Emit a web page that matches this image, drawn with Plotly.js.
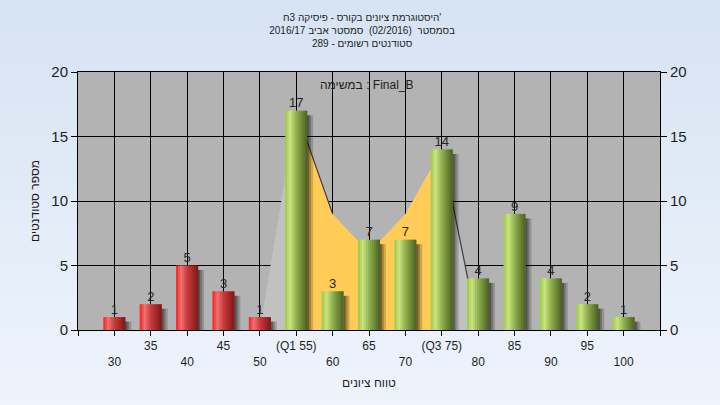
<!DOCTYPE html>
<html>
<head>
<meta charset="utf-8">
<script src="https://cdn.plot.ly/plotly-3.0.1.min.js"></script>
<style>
  html, body { margin: 0; padding: 0; }
  body { width: 720px; height: 405px; background: linear-gradient(#d6e3f3, #eef4fc); }
  #chart { width: 720px; height: 405px; }
</style>
</head>
<body>
<div id="chart"></div>
<script>
// ---- data ----
const grades = [30, 35, 40, 45, 50, 55, 60, 65, 70, 75, 80, 85, 90, 95, 100];
const counts = [1, 2, 5, 3, 1, 17, 3, 7, 7, 14, 4, 9, 4, 2, 1];
const tickLabels = ['30', '35', '40', '45', '50', '(Q1 55)', '60', '65', '70', '(Q3 75)', '80', '85', '90', '95', '100'];
const passGrade = 55;
// overlay curve (outer parts grey, inter-quartile part orange)
const curveGrades = [50, 55, 60, 65, 70, 75, 80];
const curveValues = [0, 17, 9, 6, 9, 14, 0];
const q1Index = 1, q3Index = 5;

const titleLines = [
  "היסטוגרמת ציונים בקורס - פיסיקה 3ח'",
  "בסמסטר  (02/2016)  סמסטר אביב 2016/17",
  "סטודנטים רשומים - 289"
];
const legendText = "במשימה : Final_B";
const xTitle = "טווח ציונים";
const yTitle = "מספר סטודנטים";

// ---- helpers ----
const FONT = 'Liberation Sans, Arial, sans-serif';
const barWidth = 3.05;
const nSlices = 11;

const greenStops = [[0, [155, 200, 66]], [0.22, [202, 228, 130]], [0.5, [145, 178, 78]], [1, [74, 94, 32]]];
const redStops = [[0, [245, 30, 30]], [0.22, [242, 112, 112]], [0.5, [200, 60, 60]], [1, [125, 22, 22]]];
function interp(stops, t) {
  for (let i = 1; i < stops.length; i++) {
    if (t <= stops[i][0]) {
      const [t0, c0] = stops[i - 1], [t1, c1] = stops[i];
      const f = (t - t0) / (t1 - t0);
      const c = c0.map((v, k) => Math.round(v + (c1[k] - v) * f));
      return `rgb(${c[0]},${c[1]},${c[2]})`;
    }
  }
  const c = stops[stops.length - 1][1];
  return `rgb(${c[0]},${c[1]},${c[2]})`;
}

const traces = [];

// curve areas (lower subplot layer, under the bars)
traces.push({
  type: 'scatter', mode: 'lines', x: curveGrades.slice(0, q1Index + 1), y: curveValues.slice(0, q1Index + 1),
  fill: 'tozeroy', fillcolor: 'rgb(193,193,193)', line: {width: 0}, hoverinfo: 'skip', showlegend: false
});
traces.push({
  type: 'scatter', mode: 'lines', x: curveGrades.slice(q3Index), y: curveValues.slice(q3Index),
  fill: 'tozeroy', fillcolor: 'rgb(193,193,193)', line: {width: 0}, hoverinfo: 'skip', showlegend: false
});
traces.push({
  type: 'scatter', mode: 'lines', x: curveGrades.slice(q1Index, q3Index + 1), y: curveValues.slice(q1Index, q3Index + 1),
  fill: 'tozeroy', fillcolor: 'rgb(255,204,88)', line: {width: 0}, hoverinfo: 'skip', showlegend: false
});
traces.push({
  type: 'scatter', mode: 'lines',
  x: curveGrades.slice(q1Index, q1Index + 2).concat([null]).concat(curveGrades.slice(q3Index)),
  y: curveValues.slice(q1Index, q1Index + 2).concat([null]).concat(curveValues.slice(q3Index)),
  line: {color: 'rgb(60,60,60)', width: 1.2}, connectgaps: false, hoverinfo: 'skip', showlegend: false
});

// bar shadows (upper subplot layer)
[[0.3, 0.28], [0.55, 0.22], [0.85, 0.18]].forEach(([w, a]) => {
  traces.push({
    type: 'bar', x: grades, y: counts.map(v => Math.max(v - 0.35, 0)), yaxis: 'y2',
    width: w, offset: barWidth / 2 - 0.05,
    marker: {color: `rgba(0,0,0,${a})`, line: {width: 0}}, hoverinfo: 'skip', showlegend: false
  });
});

// bars as cylinder-shaded slices
const sw = barWidth / nSlices;
for (let i = 0; i < nSlices; i++) {
  const t = (i + 0.5) / nSlices;
  traces.push({
    type: 'bar', x: grades, y: counts, yaxis: 'y2',
    width: i === nSlices - 1 ? sw : sw * 1.35,
    offset: -barWidth / 2 + i * sw,
    marker: {color: grades.map(g => g < passGrade ? interp(redStops, t) : interp(greenStops, t)), line: {width: 0}},
    hoverinfo: 'skip', showlegend: false
  });
}

// value labels
traces.push({
  type: 'scatter', mode: 'text', x: grades, y: counts, yaxis: 'y2',
  text: counts.map(String), textposition: 'top center',
  textfont: {family: FONT, size: 13, color: '#262626'}, cliponaxis: false,
  hoverinfo: 'skip', showlegend: false
});

const tickVals = [25].concat(grades).concat([105]);
const tickText = [''].concat(tickLabels.map((l, i) => i % 2 === 0 ? ' <br>' + l : l)).concat(['']);

const layout = {
  width: 720, height: 405,
  margin: {l: 78, r: 60, t: 72, b: 75},
  paper_bgcolor: 'rgba(0,0,0,0)',
  plot_bgcolor: 'rgb(179,179,179)',
  barmode: 'overlay',
  showlegend: false,
  font: {family: FONT, color: '#1e1e1e'},
  title: {
    text: titleLines.join('<br>'),
    font: {family: FONT, size: 10, color: '#1e1e1e'},
    x: 0.503, xref: 'container', xanchor: 'center',
    y: 1 - 20.5 / 405, yref: 'container', yanchor: 'top'
  },
  xaxis: {
    range: [25, 105], tickmode: 'array', tickvals: tickVals, ticktext: tickText,
    tickangle: 0, ticks: 'outside', ticklen: 5, tickcolor: '#000', tickwidth: 1,
    tickfont: {family: FONT, size: 12, color: '#1e1e1e'},
    showgrid: true, gridcolor: '#000', gridwidth: 1,
    showline: true, linecolor: '#000', linewidth: 1, mirror: true, zeroline: false,
    title: {text: xTitle, font: {family: FONT, size: 12, color: '#1e1e1e'}, standoff: 10},
    fixedrange: true
  },
  yaxis: {
    range: [0, 20], tickvals: [0, 5, 10, 15, 20], ticks: 'outside', ticklen: 6, tickcolor: '#000',
    tickfont: {family: FONT, size: 15, color: '#1e1e1e'},
    showgrid: true, gridcolor: '#000', gridwidth: 1,
    showline: true, linecolor: '#000', linewidth: 1, zeroline: false,
    title: {text: yTitle, font: {family: FONT, size: 12, color: '#1e1e1e'}, standoff: 9},
    fixedrange: true
  },
  yaxis2: {
    range: [0, 20], tickvals: [0, 5, 10, 15, 20], overlaying: 'y', side: 'right',
    ticks: 'outside', ticklen: 6, tickcolor: '#000',
    tickfont: {family: FONT, size: 15, color: '#1e1e1e'},
    showgrid: false, showline: true, linecolor: '#000', linewidth: 1, zeroline: false,
    fixedrange: true
  },
  annotations: [{
    text: legendText, xref: 'paper', yref: 'paper', x: 0.497, y: (330 - 85) / 258,
    xanchor: 'center', yanchor: 'middle', showarrow: false,
    font: {family: FONT, size: 12, color: '#1e1e1e'}
  }]
};

Plotly.newPlot('chart', traces, layout, {staticPlot: true, displayModeBar: false});
</script>
</body>
</html>
